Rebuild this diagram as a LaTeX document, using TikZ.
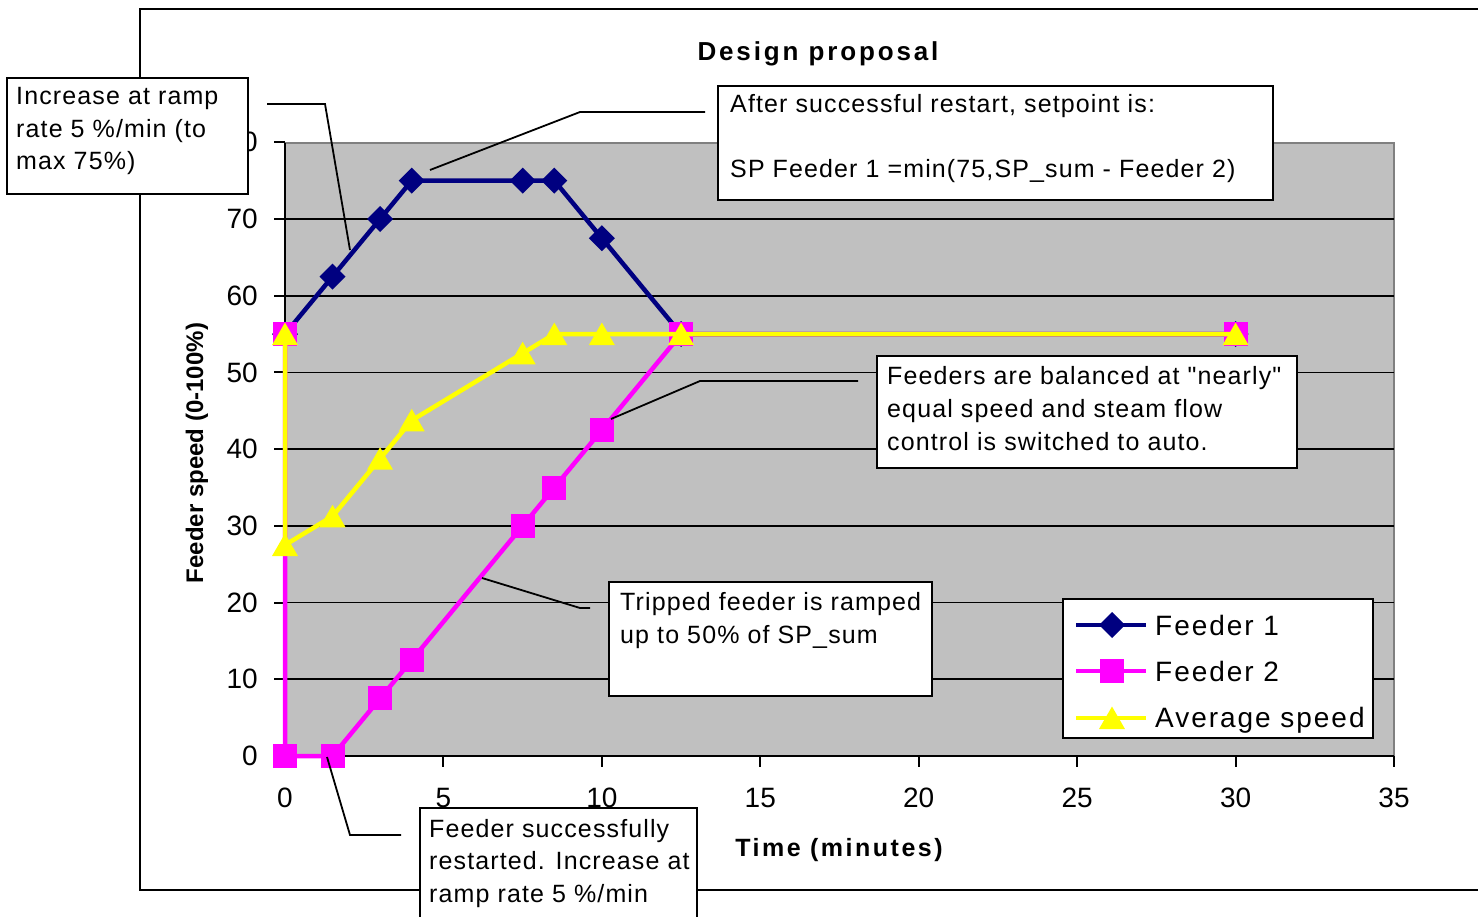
\documentclass[tikz,border=0pt]{standalone}
\usepackage{fontspec}
\setmainfont{Liberation Sans}
\newfontfamily\annfont[LetterSpace=4.5]{Liberation Sans}
\newfontfamily\legfont[LetterSpace=7]{Liberation Sans}
\newfontfamily\ttlfont[LetterSpace=11]{Liberation Sans}
\newfontfamily\xtfont[LetterSpace=10]{Liberation Sans}
\newfontfamily\tickfont{Liberation Sans}
\definecolor{fnavy}{HTML}{000080}
\definecolor{fmag}{HTML}{FF00FF}
\definecolor{fyel}{HTML}{FFFF00}
\definecolor{plotgray}{HTML}{C0C0C0}
\definecolor{bordgray}{HTML}{808080}
\begin{document}
\begin{tikzpicture}[x=1pt,y=-1pt,
  ann/.style={font=\annfont\fontsize{25}{30}\selectfont, anchor=base west, inner sep=0pt},
  legtext/.style={font=\legfont\fontsize{28}{32}\selectfont, anchor=base west, inner sep=0pt},
  ticklab/.style={font=\tickfont\fontsize{28}{32}\selectfont, inner sep=0pt},
  annbox/.style={draw=black, line width=2pt, fill=white, anchor=north west, inner sep=0pt, outer sep=0pt},
  leader/.style={draw=black, line width=1.8pt},
  grid line/.style={draw=black, line width=1.6pt},
  series/.style={line width=4.5pt, line join=round}]
\useasboundingbox (0,0) rectangle (1478,917);
\clip (0,0) rectangle (1478,917);
\fill[white] (0,0) rectangle (1478,917);

% outer chart border
\draw[line width=2.5pt] (1490,9) -- (140,9) -- (140,890) -- (1490,890);

% plot area
\fill[plotgray] (285,143) rectangle (1394,756);
\draw[bordgray, line width=2pt] (285,143) rectangle (1394,756);
\foreach \v in {1,...,7}
  \draw[grid line] (285,{756-76.714*\v}) -- (1394,{756-76.714*\v});
\draw[line width=2pt] (285,143) -- (285,756) -- (1394,756);

% y ticks and labels
\foreach \v in {0,...,8}{
  \draw[line width=2pt] (274,{756-76.714*\v}) -- (285,{756-76.714*\v});
  \pgfmathtruncatemacro\lab{10*\v}
  \node[ticklab, anchor=east] (yl\v) at (258,{756-76.714*\v}) {\lab};
}
% x ticks and labels
\foreach \i in {0,...,7}{
  \draw[line width=2pt] ({285+158.43*\i},756) -- ({285+158.43*\i},767);
  \pgfmathtruncatemacro\lab{5*\i}
  \node[ticklab] (xl\i) at ({285+158.43*\i},798) {\lab};
}

% titles
\node[font=\ttlfont\bfseries\fontsize{26}{30}\selectfont, anchor=base, inner sep=0pt] (title) at (818,61) {Design proposal};
\node[font=\xtfont\bfseries\fontsize{25}{30}\selectfont, anchor=base, inner sep=0pt] (xtitle) at (839,856) {Time (minutes)};
\node[font=\tickfont\bfseries\fontsize{24}{28}\selectfont, anchor=base, inner sep=0pt, rotate=90] (ytitle) at (203,453) {Feeder speed (0-100\%)};

% data
\begin{scope}[shift={(285pt,-756pt)}, x=31.686pt, y=7.6714pt]
  \draw[series, fnavy] plot coordinates {(0,55) (1.5,62.5) (3,70) (4,75) (7.5,75) (8.5,75) (10,67.5) (12.5,55) (30,55)};
  \foreach \t/\v in {0/55,1.5/62.5,3/70,4/75,7.5/75,8.5/75,10/67.5,12.5/55,30/55}
    \fill[fnavy, shift={(\t,\v)}] (0pt,13pt) -- (13pt,0pt) -- (0pt,-13pt) -- (-13pt,0pt) -- cycle;
  \draw[series, fmag] plot coordinates {(0,55) (0,0) (1.5,0) (3,7.5) (4,12.5) (7.5,30) (8.5,35) (10,42.5) (12.5,55) (30,55)};
  \foreach \t/\v in {0/55,0/0,1.5/0,3/7.5,4/12.5,7.5/30,8.5/35,10/42.5,12.5/55,30/55}
    \fill[fmag, shift={(\t,\v)}] (-12pt,-12pt) rectangle (12pt,12pt);
  \draw[series, fyel] plot coordinates {(0,55) (0,27.5) (1.5,31.25) (3,38.75) (4,43.75) (7.5,52.5) (8.5,55) (10,55) (12.5,55) (30,55)};
  \foreach \t/\v in {0/55,0/27.5,1.5/31.25,3/38.75,4/43.75,7.5/52.5,8.5/55,10/55,12.5/55,30/55}
    \fill[fyel, shift={(\t,\v)}] (0pt,11.5pt) -- (13pt,-11pt) -- (-13pt,-11pt) -- cycle;
\end{scope}

% leader coordinates
\coordinate (l1a) at (267,104); \coordinate (l1b) at (325,104); \coordinate (l1c) at (350,250);
\coordinate (l2a) at (705,112); \coordinate (l2b) at (580,112); \coordinate (l2c) at (430,170);
\coordinate (l3a) at (858,381); \coordinate (l3b) at (700,381); \coordinate (l3c) at (611,419);
\coordinate (l4a) at (590,608); \coordinate (l4b) at (580,608); \coordinate (l4c) at (482,578);
\coordinate (l5a) at (401,835); \coordinate (l5b) at (350,835); \coordinate (l5c) at (327,757);
\draw[leader] (l1a) -- (l1b) -- (l1c);
\draw[leader] (l2a) -- (l2b) -- (l2c);
\draw[leader] (l3a) -- (l3b) -- (l3c);
\draw[leader] (l4a) -- (l4b) -- (l4c);
\draw[leader] (l5a) -- (l5b) -- (l5c);

% annotation boxes
\node[annbox, minimum width=241pt, minimum height=116pt] (box1) at (7,78) {};
\node[ann] (t1a) at (16,105) {Increase at ramp};
\node[ann] (t1b) at (16,137.5) {rate 5 \%/min (to};
\node[ann] (t1c) at (16,170) {max 75\%)};

\node[annbox, minimum width=555pt, minimum height=114pt] (box2) at (718,86) {};
\node[ann] (t2a) at (730,113) {After successful restart, setpoint is:};
\node[ann] (t2b) at (730,178) {SP Feeder 1 =min(75,SP\_sum - Feeder 2)};

\node[annbox, minimum width=420pt, minimum height=112pt] (box3) at (877,356) {};
\node[ann] (t3a) at (887,384) {Feeders are balanced at "nearly"};
\node[ann] (t3b) at (887,417) {equal speed and steam flow};
\node[ann] (t3c) at (887,450) {control is switched to auto.};

\node[annbox, minimum width=323pt, minimum height=114pt] (box4) at (609,582) {};
\node[ann] (t4a) at (620,610) {Tripped feeder is ramped};
\node[ann] (t4b) at (620,643) {up to 50\% of SP\_sum};

\node[annbox, minimum width=277pt, minimum height=140pt] (box5) at (420,808) {};
\node[ann] (t5a) at (429,837) {Feeder successfully};
\node[ann] (t5b) at (429,869) {restarted. Increase at};
\node[ann] (t5c) at (429,902) {ramp rate 5 \%/min};

% legend
\node[annbox, minimum width=310pt, minimum height=139pt] (leg) at (1063,599) {};
\coordinate (lg1a) at (1076,625); \coordinate (lg1b) at (1146,625); \coordinate (lg1m) at (1112,625);
\coordinate (lg2a) at (1076,671); \coordinate (lg2b) at (1146,671); \coordinate (lg2m) at (1112,671);
\coordinate (lg3a) at (1076,718); \coordinate (lg3b) at (1146,718); \coordinate (lg3m) at (1112,718);
\draw[series, fnavy] (lg1a) -- (lg1b);
\fill[fnavy, shift={(lg1m)}] (0pt,13pt) -- (13pt,0pt) -- (0pt,-13pt) -- (-13pt,0pt) -- cycle;
\draw[series, fmag] (lg2a) -- (lg2b);
\fill[fmag, shift={(lg2m)}] (-12pt,-12pt) rectangle (12pt,12pt);
\draw[series, fyel] (lg3a) -- (lg3b);
\fill[fyel, shift={(lg3m)}] (0pt,11.5pt) -- (13pt,-11pt) -- (-13pt,-11pt) -- cycle;
\node[legtext] (lt1) at (1155,635) {Feeder 1};
\node[legtext] (lt2) at (1155,681) {Feeder 2};
\node[legtext] (lt3) at (1155,727) {Average speed};
\end{tikzpicture}
\end{document}
